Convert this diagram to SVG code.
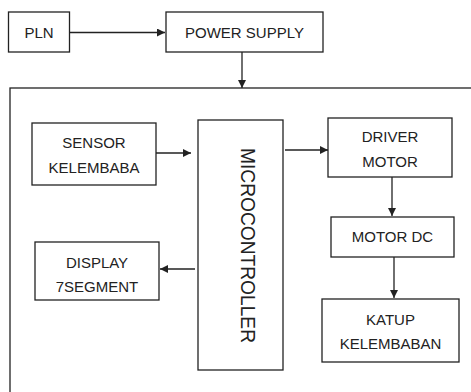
<svg xmlns="http://www.w3.org/2000/svg" width="471" height="392" viewBox="0 0 471 392">
<style>
.box{fill:#fff;stroke:#222;stroke-width:1.3}
.lbl{font-family:"Liberation Sans",Arial,sans-serif;font-size:15px;fill:#222;text-anchor:middle}
.ln{fill:none;stroke:#222;stroke-width:1.3;marker-end:url(#ah)}
</style>
<defs>
<marker id="ah" viewBox="0 0 10 10" refX="10" refY="5" markerWidth="8" markerHeight="8" markerUnits="userSpaceOnUse" orient="auto">
<path d="M0,0 L10,5 L0,10 z" fill="#222"/>
</marker>
</defs>
<rect x="10" y="88" width="480" height="330" fill="#fff" stroke="#222" stroke-width="1.3"/>
<g id="pln"><rect class="box" x="8.5" y="12" width="61" height="40"/><text class="lbl" x="39" y="37.5">PLN</text></g>
<g id="power-supply"><rect class="box" x="166" y="12" width="157" height="40"/><text class="lbl" x="244.5" y="37.5">POWER SUPPLY</text></g>
<g id="sensor"><rect class="box" x="32" y="123" width="124" height="62"/><text class="lbl" x="94" y="147.5">SENSOR</text><text class="lbl" x="94" y="173.3">KELEMBABA</text></g>
<g id="microcontroller"><rect class="box" x="198" y="120" width="85" height="250"/><text class="lbl" style="font-size:20px" textLength="195" lengthAdjust="spacingAndGlyphs" transform="translate(241,245.5) rotate(90)" x="0" y="0">MICROCONTROLLER</text></g>
<g id="driver-motor"><rect class="box" x="328" y="118" width="124" height="59"/><text class="lbl" x="390" y="142.3">DRIVER</text><text class="lbl" x="390" y="166.7">MOTOR</text></g>
<g id="motor-dc"><rect class="box" x="331" y="217" width="123" height="40"/><text class="lbl" x="392.5" y="241.5">MOTOR DC</text></g>
<g id="display"><rect class="box" x="35" y="242" width="124" height="58"/><text class="lbl" x="97" y="267.5">DISPLAY</text><text class="lbl" x="97" y="292.3">7SEGMENT</text></g>
<g id="katup"><rect class="box" x="322" y="299" width="137" height="63"/><text class="lbl" x="390.5" y="325">KATUP</text><text class="lbl" x="390.5" y="349">KELEMBABAN</text></g>
<g id="connectors">
<line class="ln" x1="69.5" y1="32.5" x2="165" y2="32.5"/>
<line class="ln" x1="242" y1="52" x2="242" y2="88"/>
<line class="ln" x1="156" y1="153" x2="191" y2="153"/>
<line class="ln" x1="285" y1="150" x2="328" y2="150"/>
<line class="ln" x1="392" y1="177" x2="392" y2="216"/>
<line class="ln" x1="394" y1="257" x2="394" y2="298"/>
<line class="ln" x1="195" y1="269" x2="160" y2="269"/>
</g>
</svg>
